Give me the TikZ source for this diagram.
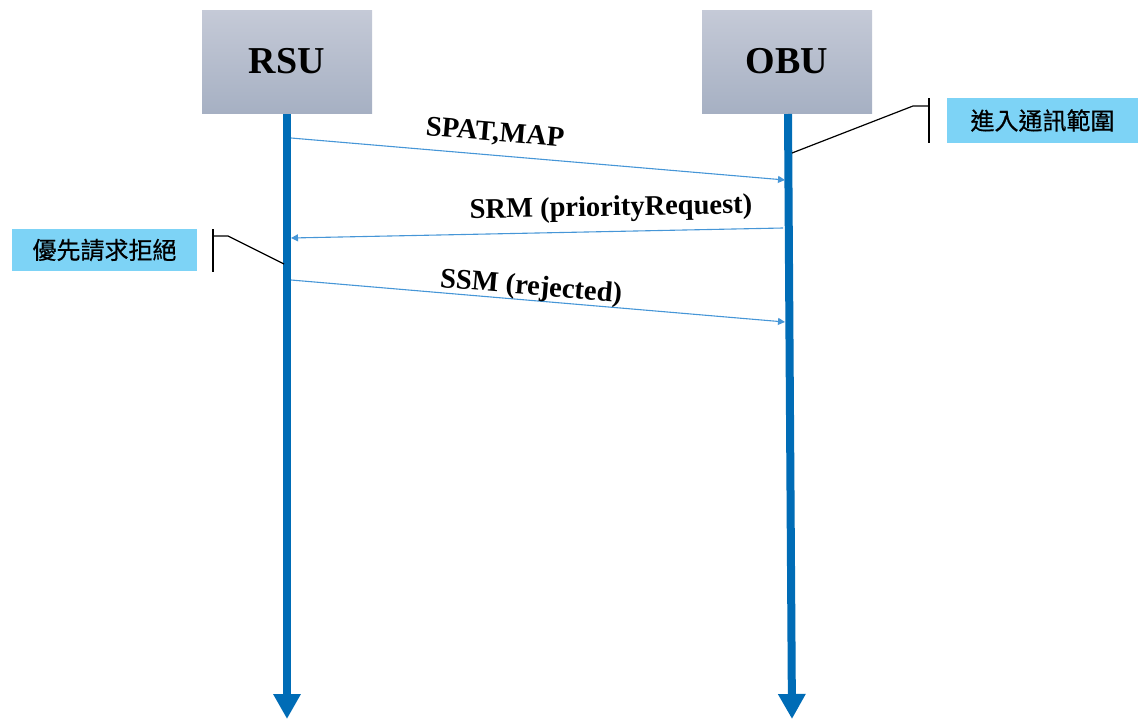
\documentclass[tikz,border=0pt]{standalone}
\usepackage{fontspec}
\setmainfont{Liberation Serif}
\newfontfamily\cjk[UprightFeatures={FakeBold=0.6}]{Noto Sans CJK TC}
\usetikzlibrary{arrows.meta}
\definecolor{lifeblue}{RGB}{0,108,182}
\definecolor{msgblue}{RGB}{70,150,215}
\definecolor{noteblue}{RGB}{125,211,246}
\definecolor{unittop}{RGB}{197,202,215}
\definecolor{unitbot}{RGB}{166,176,195}
\begin{document}
\begin{tikzpicture}[x=1pt, y=-1pt,
    unit/.style={minimum width=170pt, minimum height=103pt, inner sep=0pt,
      top color=unittop, bottom color=unitbot, font=\fontsize{38}{40}\selectfont\bfseries},
    life/.style={line width=8pt, lifeblue, -{Triangle[width=26pt,length=25pt]}},
    msg/.style={line width=1.1pt, msgblue, -{Triangle[width=7pt,length=7pt]}},
    msglabel/.style={font=\fontsize{28.5}{30}\selectfont\bfseries, inner sep=0pt},
    note/.style={fill=noteblue, inner sep=0pt, font=\cjk\fontsize{24}{26}\selectfont},
    callout/.style={line width=1.2pt, black}]
  \useasboundingbox (0,0) rectangle (1140,720);
  \pgfmathsetmacro{\ta}{138}
  \pgfmathsetmacro{\tb}{233}
  \pgfmathsetmacro{\tc}{280}
  \pgfmathsetmacro{\dy}{42}

  % the two units
  \node[unit] (rsu) at (287,61.5) {RSU};
  \node[unit] (obu) at (787,61.5) {OBU};

  % lifelines
  \coordinate (rsutop) at (287,114);
  \coordinate (rsuend) at (287,719);
  \coordinate (obutop) at (788,114);
  \coordinate (obuend) at (792,719);
  \draw[life] (rsutop) -- (rsuend);
  \draw[life] (obutop) -- (obuend);

  % messages
  \coordinate (spatS) at (291,\ta);
  \coordinate (spatE) at (785,\ta+\dy);
  \coordinate (srmS) at (783,\tb-5);
  \coordinate (srmE) at (291,\tb+5);
  \coordinate (ssmS) at (291,\tc);
  \coordinate (ssmE) at (785,\tc+\dy);
  \draw[msg] (spatS) -- (spatE);
  \draw[msg] (srmS) -- (srmE);
  \draw[msg] (ssmS) -- (ssmE);
  \node[msglabel, rotate=-4.85] (spatlabel) at (495,134) {SPAT,MAP};
  \node[msglabel, rotate=1] (srmlabel) at (611,209) {SRM (priorityRequest)};
  \node[msglabel, rotate=-4.85] (ssmlabel) at (531,288) {SSM (rejected)};

  % notes
  \node[note, minimum width=191pt, minimum height=45pt] (enter) at (1042.5,120.5) {進入通訊範圍};
  \coordinate (enterA) at (792,153);
  \coordinate (enterB) at (913,106);
  \coordinate (enterC) at (929,106);
  \coordinate (enterT) at (929,98);
  \coordinate (enterD) at (929,143);
  \draw[callout] (enterA) -- (enterB) -- (enterC);
  \draw[callout] (enterT) -- (enterD);

  \node[note, minimum width=185pt, minimum height=42pt] (reject) at (104.5,250) {優先請求拒絕};
  \coordinate (rejectA) at (284,264);
  \coordinate (rejectB) at (228,236);
  \coordinate (rejectC) at (213,236);
  \coordinate (rejectT) at (213,229);
  \coordinate (rejectD) at (213,272);
  \draw[callout] (rejectA) -- (rejectB) -- (rejectC);
  \draw[callout] (rejectT) -- (rejectD);
\end{tikzpicture}
\end{document}
